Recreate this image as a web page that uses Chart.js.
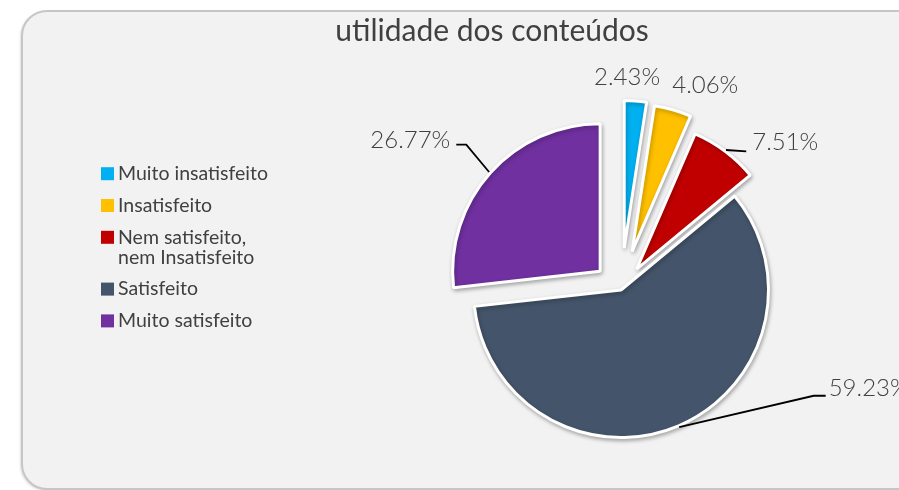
<!DOCTYPE html>
<html>
<head>
<meta charset="utf-8">
<script src="https://cdn.jsdelivr.net/npm/chart.js@4.4.1/dist/chart.umd.min.js"></script>
<style>
  html, body { margin: 0; padding: 0; background: #ffffff; overflow: hidden; }
  #card {
    position: absolute; left: 21px; top: 10px; width: 900px; height: 476px;
    background: #f2f2f2; border: 2px solid #c6c6c6; border-radius: 26px;
    box-shadow: -1px 1px 2px rgba(0, 0, 0, 0.12);
  }
  #chart { position: absolute; left: 0; top: 0; }
</style>
</head>
<body>
<div id="card"></div>
<canvas id="chart" width="899" height="490"></canvas>
<script>
// utilidade dos conteúdos - pie chart with pulled-out slices

const chartTitle = 'utilidade dos conteúdos';
const categories = [
  'Muito insatisfeito',
  'Insatisfeito',
  ['Nem satisfeito,', 'nem Insatisfeito'],
  'Satisfeito',
  'Muito satisfeito'
];
const shares = [2.43, 4.06, 7.51, 59.23, 26.77];
const sliceColors = ['#00B0F0', '#FFC000', '#C00000', '#44546A', '#7030A0'];

// how far each slice is pulled away from the centre (px)
const explode = [42, 40, 26, 0, 28];

// label placement, relative to the middle of each slice's outer edge
const labelStyle = [
  { text: [-8.5, -22], align: 'center' },
  { text: [32, -23], align: 'center' },
  { text: [26.2, -7.6], align: 'left', leader: [[20.2, 1.4]] },
  { text: [149.5, -39.4], align: 'left', leader: [[134.5, -31.4], [146.5, -31.4]] },
  { text: [-38.8, -31.8], align: 'right', leader: [[-22.8, -27.3], [-32.8, -27.3]] }
];

const FONT = 'Lato, "Open Sans", sans-serif';
const TEXT_COLOR = '#404040';

/**
 * Pull slices out along their middle angle
 */
const explodePlugin = {
  id: 'explode',
  afterDatasetUpdate(chart, args) {
    args.meta.data.forEach((arc, i) => {
      const d = explode[i] || 0;
      const mid = (arc.startAngle + arc.endAngle) / 2;
      arc.x += Math.cos(mid) * d;
      arc.y += Math.sin(mid) * d;
    });
  }
};

/**
 * Soft shadow under the slices
 */
const shadowPlugin = {
  id: 'sliceShadow',
  beforeDatasetsDraw(chart) {
    const ctx = chart.ctx;
    ctx.save();
    ctx.shadowColor = 'rgba(0, 0, 0, 0.28)';
    ctx.shadowBlur = 4;
    ctx.shadowOffsetX = 1;
    ctx.shadowOffsetY = 2;
  },
  afterDatasetsDraw(chart) {
    chart.ctx.restore();
  }
};

/**
 * Title, legend, percentage labels and leader lines
 */
const decorPlugin = {
  id: 'decor',
  afterDraw(chart) {
    const ctx = chart.ctx;
    ctx.save();

    // title
    ctx.fillStyle = TEXT_COLOR;
    ctx.font = `30px ${FONT}`;
    ctx.textAlign = 'center';
    ctx.textBaseline = 'alphabetic';
    ctx.fillText(chartTitle, 492, 41);

    // legend
    const ds = chart.data.datasets[0];
    let y = 173.7;
    ctx.font = `19.5px ${FONT}`;
    ctx.textAlign = 'left';
    ctx.textBaseline = 'middle';
    chart.data.labels.forEach((label, i) => {
      const lines = Array.isArray(label) ? label : [label];
      ctx.fillStyle = ds.backgroundColor[i];
      ctx.fillRect(101, y - 6.5, 13, 13);
      ctx.fillStyle = TEXT_COLOR;
      lines.forEach((line, k) => ctx.fillText(line, 118, y + k * 20));
      y += 31.8 + (lines.length - 1) * 20;
    });

    // percentage labels
    const meta = chart.getDatasetMeta(0);
    ctx.font = `300 24px ${FONT}`;
    meta.data.forEach((arc, i) => {
      const p = arc.getProps(['x', 'y', 'startAngle', 'endAngle', 'outerRadius'], true);
      const mid = (p.startAngle + p.endAngle) / 2;
      const ax = p.x + Math.cos(mid) * (p.outerRadius + 1.5);
      const ay = p.y + Math.sin(mid) * (p.outerRadius + 1.5);
      const style = labelStyle[i];

      if (style.leader) {
        ctx.strokeStyle = '#000000';
        ctx.lineWidth = 1.8;
        ctx.beginPath();
        ctx.moveTo(ax, ay);
        style.leader.forEach(pt => ctx.lineTo(ax + pt[0], ay + pt[1]));
        ctx.stroke();
      }

      ctx.fillStyle = TEXT_COLOR;
      ctx.textAlign = style.align;
      ctx.textBaseline = 'middle';
      ctx.fillText(ds.data[i].toFixed(2) + '%', ax + style.text[0], ay + style.text[1]);
    });

    ctx.restore();
  }
};

new Chart(document.getElementById('chart'), {
  type: 'pie',
  data: {
    labels: categories,
    datasets: [{
      data: shares,
      backgroundColor: sliceColors,
      borderColor: '#ffffff',
      borderWidth: 3,
      hoverOffset: 0,
      offset: 0
    }]
  },
  options: {
    responsive: false,
    animation: false,
    events: [],
    layout: {
      padding: { left: 472, right: 129, top: 141, bottom: 51 }
    },
    plugins: {
      legend: { display: false },
      title: { display: false },
      tooltip: { enabled: false }
    }
  },
  plugins: [explodePlugin, shadowPlugin, decorPlugin]
});
</script>
</body>
</html>
